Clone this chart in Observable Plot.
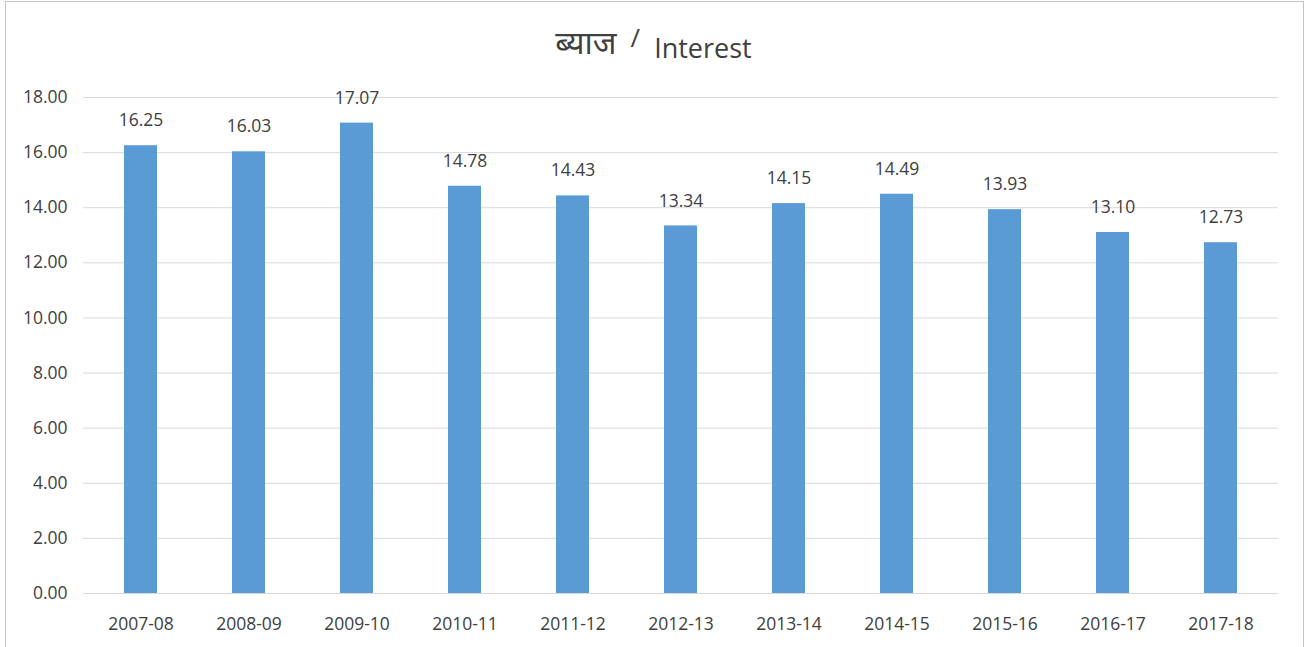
<!DOCTYPE html>
<html>
<head>
<meta charset="utf-8">
<script src="https://cdn.jsdelivr.net/npm/d3@7"></script>
<script src="https://cdn.jsdelivr.net/npm/@observablehq/plot@0.6"></script>
<style>
  body { margin: 0; background: #fff; }
  #wrap { position: relative; width: 1307px; height: 647px; overflow: hidden; font-family: "Open Sans", Lato, sans-serif; }
  #frame { position: absolute; left: 5px; top: 1px; width: 1299px; height: 700px; border: 1px solid #c4c4c4; box-sizing: border-box; }
  #title { position: absolute; left: 0; top: 20px; width: 1307px; text-align: center; color: #404040; white-space: nowrap; }
  #title .np { font-size: 32px; font-family: "Noto Sans", "DejaVu Sans", sans-serif; }
  #title .sl { font-size: 26px; margin: 0 14px 0 14px; position: relative; top: -7px; }
  #title .en { font-size: 27px; position: relative; top: 4px; }
  #chart { position: absolute; left: 0; top: 75px; }
</style>
</head>
<body>
<div id="wrap">
  <div id="frame"></div>
  <div id="title"><span class="np">ब्याज</span><span class="sl">/</span><span class="en">Interest</span></div>
  <div id="chart"></div>
</div>
<script>
const years = ["2007-08","2008-09","2009-10","2010-11","2011-12","2012-13","2013-14","2014-15","2015-16","2016-17","2017-18"];
const interest = [16.25,16.03,17.07,14.78,14.43,13.34,14.15,14.49,13.93,13.10,12.73];
const yTicks = [0,2,4,6,8,10,12,14,16,18];

const data = years.map((y, i) => ({year: y, value: interest[i]}));
const fmt = d3.format(".2f");

const chart = Plot.plot({
  width: 1307,
  height: 572,
  marginLeft: 83,
  marginRight: 29,
  marginTop: 22,
  marginBottom: 54,
  style: {fontFamily: "'Open Sans', Lato, sans-serif", fontSize: "17.5px", color: "#404040", background: "transparent"},
  x: {domain: years, paddingInner: 0.69, paddingOuter: 0.345, label: null},
  y: {domain: [0, 18], label: null},
  marks: [
    Plot.ruleY(yTicks, {stroke: "#d9d9d9", strokeWidth: 1}),
    Plot.barY(data, {x: "year", y: "value", fill: "#5b9bd5"}),
    Plot.text(data, {x: "year", y: "value", text: d => fmt(d.value), dy: -25, fill: "#404040", fontSize: 17.5}),
    Plot.axisX({tickSize: 0, tickPadding: 24, fontSize: 17.5, fill: "#404040"}),
    Plot.axisY({ticks: yTicks, tickFormat: fmt, tickSize: 0, tickPadding: 16, fontSize: 17.5, fill: "#404040"})
  ]
});
document.getElementById("chart").appendChild(chart);
</script>
</body>
</html>
